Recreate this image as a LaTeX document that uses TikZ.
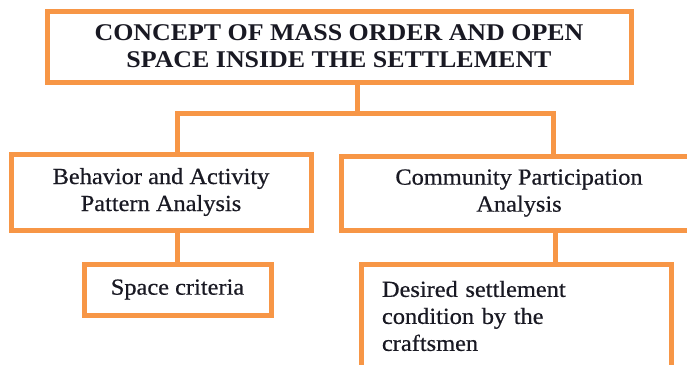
\documentclass[tikz,border=0pt]{standalone}
\usepackage{fontspec}
\setmainfont{Liberation Serif}[FakeStretch=1.08]
\newfontfamily\heavyserif{Liberation Serif}[FakeStretch=1.06,FakeBold=0.6]
\definecolor{boxorange}{RGB}{247,150,70}
\definecolor{inktext}{RGB}{25,25,35}
\begin{document}
\begin{tikzpicture}[x=1pt,y=-1pt,
  box/.style={draw=boxorange, line width=5pt, fill=white, inner sep=0pt, outer sep=0pt,
              align=center, text=inktext, font=\heavyserif\fontsize{23}{27}\selectfont},
  link/.style={draw=boxorange, line width=5pt}]
\path[use as bounding box] (0,0) rectangle (687,364);
\clip (0,0) rectangle (687,364);
% nodes
\node[box, minimum width=584pt, minimum height=71pt, font=\fontsize{24}{27}\selectfont\bfseries]
  (top) at (339,46.5) {CONCEPT OF MASS ORDER AND OPEN\\SPACE INSIDE THE SETTLEMENT};
\node[box, minimum width=300pt, minimum height=76pt] (left) at (161,192)
  {Behavior and Activity\\Pattern Analysis};
\node[box, minimum width=356pt, minimum height=74pt] (right) at (519,193)
  {Community Participation\\Analysis};
\node[box, minimum width=187pt, minimum height=51pt] (space) at (177.5,289.5)
  {Space criteria};
\node[box, minimum width=310pt, minimum height=104pt, text width=268pt, align=left] (desired) at (516,316)
  {Desired settlement\\condition by the\\craftsmen};
% connectors
\coordinate (hl) at (177,113);
\coordinate (hr) at (553,113);
\coordinate (hm) at (357,113);
\draw[link] (top.south -| hm) -- (hm);
\draw[link] (left.north -| hl) -- (hl) -- (hr) -- (right.north -| hr);
\draw[link] (left.south -| space.north) -- (space.north);
\draw[link] (right.south -| 555,0) -- (desired.north -| 555,0);
\end{tikzpicture}
\end{document}
